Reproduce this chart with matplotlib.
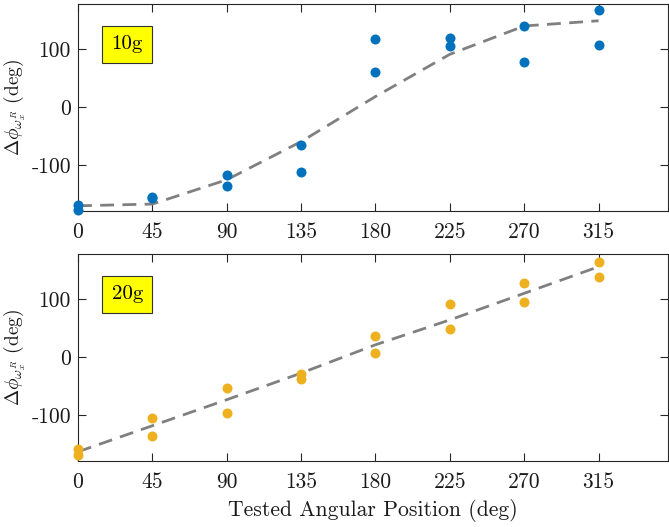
import matplotlib
matplotlib.use("Agg")
import matplotlib.pyplot as plt
import numpy as np

plt.rcParams['font.family'] = 'serif'
plt.rcParams['font.serif'] = ['cmr10']
plt.rcParams['mathtext.fontset'] = 'cm'
plt.rcParams['axes.unicode_minus'] = False

# Data
angles = [0, 45, 90, 135, 180, 225, 270, 315]
g10_a = [-169, -155, -118, -65, 117, 120, 140, 167]
g10_b = [-179, -157, -137, -113, 61, 105, 77, 107]
g10_fit = [-171, -168, -126, -60, 18, 91, 140, 149]
g20_a = [-160, -106, -53, -29, 37, 91, 127, 164]
g20_b = [-170, -136, -97, -38, 6, 48, 95, 139]
g20_fit = [-164, -119, -74, -28, 21, 64, 110, 156]
yticks = [-100, 0, 100]
ytick_labels = ['-100', '0', '100']
xtick_labels = ['0', '45', '90', '135', '180', '225', '270', '315']

W, H = 669, 527
fig = plt.figure(figsize=(W / 100, H / 100), dpi=100)

ax_color = '#262626'
panels = [
    (dict(left=78, right=668, top=4, bottom=211), g10_a, g10_b, g10_fit, '#0072BD', '10g'),
    (dict(left=78, right=668, top=254, bottom=461), g20_a, g20_b, g20_fit, '#EDB120', '20g'),
]
axes = []
for pos, a, b, fit, col, lab in panels:
    ax = fig.add_axes([pos['left'] / W, 1 - pos['bottom'] / H,
                       (pos['right'] - pos['left']) / W, (pos['bottom'] - pos['top']) / H])
    ax.plot(angles, fit, linestyle=(0, (5, 3)), color='#808080', linewidth=2, zorder=2)
    ax.plot(angles, a, 'o', color=col, markersize=7.2, markeredgewidth=0, zorder=3, clip_on=False)
    ax.plot(angles, b, 'o', color=col, markersize=7.2, markeredgewidth=0, zorder=3, clip_on=False)
    ax.set_xlim(0, 357)
    ax.set_ylim(-180, 178)
    ax.set_xticks(angles)
    ax.set_xticklabels(xtick_labels)
    ax.set_yticks(yticks)
    ax.set_yticklabels(ytick_labels)
    ax.tick_params(direction='in', length=6, width=0.8, color=ax_color, labelcolor='#1a1a1a',
                   labelsize=15.5, top=True, right=True)
    ax.tick_params(axis='x', pad=8)
    ax.tick_params(axis='y', pad=5)
    for s in ax.spines.values():
        s.set_color(ax_color)
        s.set_linewidth(0.8)
    ax.set_ylabel(r'$\Delta\phi_{\omega_x^R}$ (deg)', fontsize=14, color='#1a1a1a')
    ax.yaxis.set_label_coords(-0.084, 0.5)
    ax.text(0.057, 0.805, lab, transform=ax.transAxes, fontsize=15,
            bbox=dict(boxstyle='square,pad=0.45', facecolor='#FFFF00', edgecolor='#333333', linewidth=0.8),
            va='center', ha='left', zorder=5)
    axes.append(ax)

axes[1].set_xlabel('Tested Angular Position (deg)', fontsize=15.6, color='#1a1a1a', labelpad=5)

fig.savefig('out.png', dpi=100)
